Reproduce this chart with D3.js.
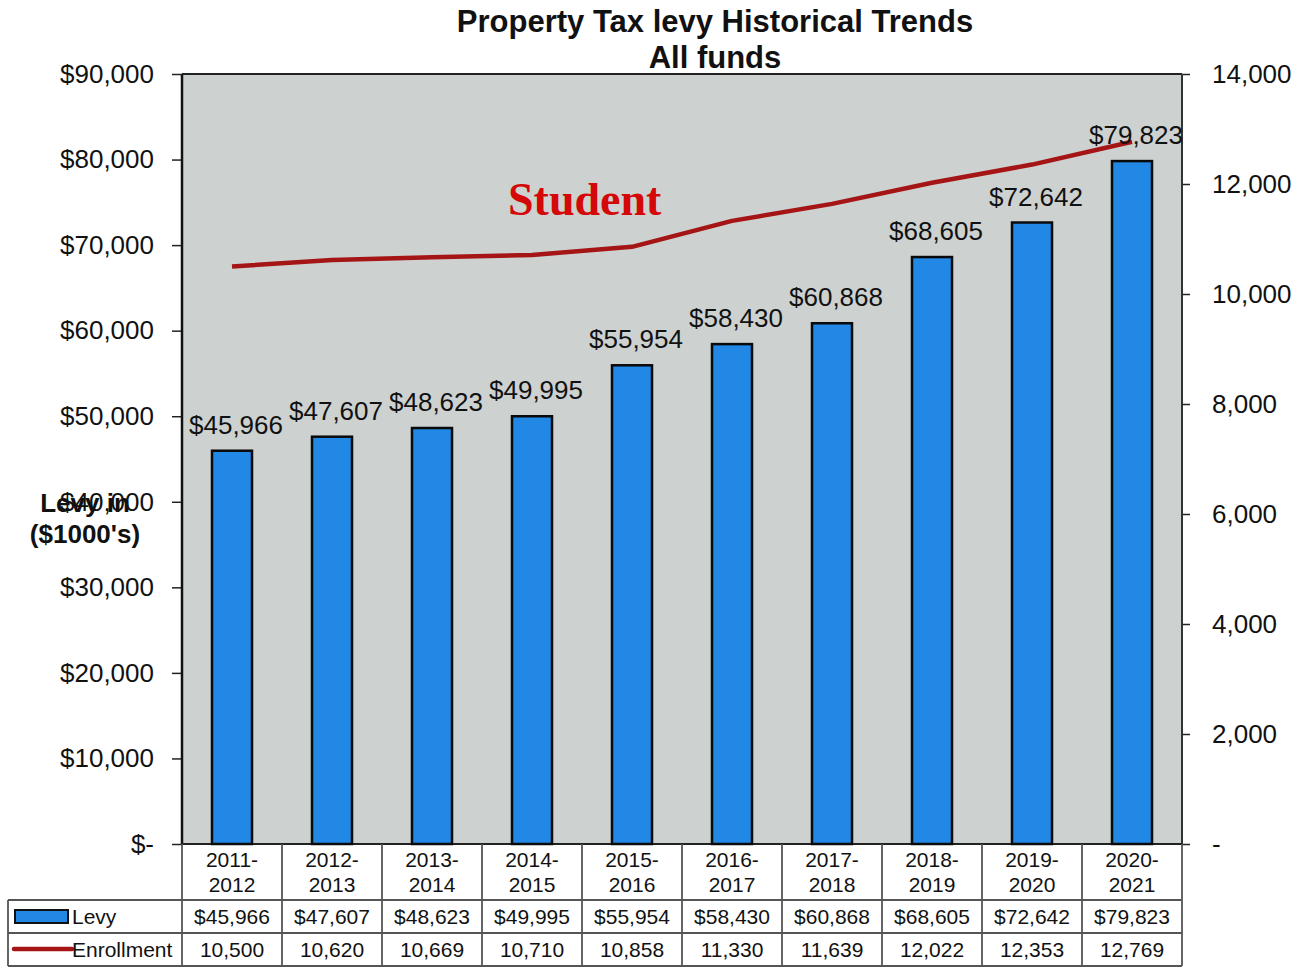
<!DOCTYPE html>
<html><head><meta charset="utf-8">
<script src="https://cdn.jsdelivr.net/npm/d3@7"></script>
<style>body{margin:0;background:#fff}svg{display:block}text{font-family:"Liberation Sans",Arial,sans-serif}</style>
</head><body><svg id="c" width="1304" height="967"></svg>
<script>
const categories = ["2011-2012","2012-2013","2013-2014","2014-2015","2015-2016","2016-2017","2017-2018","2018-2019","2019-2020","2020-2021"];
const levy = [45966,47607,48623,49995,55954,58430,60868,68605,72642,79823];
const enrollment = [10500,10620,10669,10710,10858,11330,11639,12022,12353,12769];
const leftTicks = [0,10000,20000,30000,40000,50000,60000,70000,80000,90000];
const rightTicks = [0,2000,4000,6000,8000,10000,12000,14000];

const svg = d3.select("#c");
const L=182,R=1182,T=74,B=844;
const x = d3.scaleBand().domain(categories).range([L,R]).paddingInner(0.6).paddingOuter(0.3);
const xc = d3.scaleBand().domain(categories).range([L,R]);
const yL = d3.scaleLinear().domain([0,90000]).range([B,T]);
const yR = d3.scaleLinear().domain([0,14000]).range([B,T]);
const money = d => d===0 ? "$-" : "$" + d3.format(",")(d);
const num = d => d===0 ? "-" : d3.format(",")(d);

// title
svg.append("text").attr("x",715).attr("y",32).attr("text-anchor","middle").attr("font-size",31).attr("font-weight","bold").attr("fill","#111").text("Property Tax levy Historical Trends");
svg.append("text").attr("x",715).attr("y",68).attr("text-anchor","middle").attr("font-size",31).attr("font-weight","bold").attr("fill","#111").text("All funds");

// plot bg
svg.append("rect").attr("x",L).attr("y",T).attr("width",R-L).attr("height",B-T).attr("fill","#cdd1d0");

// axes
const gl = svg.append("g").attr("transform",`translate(${L},0)`).call(d3.axisLeft(yL).tickValues(leftTicks).tickFormat(money).tickSize(10).tickPadding(18));
gl.selectAll("text").attr("font-size",26).attr("fill","#111");
gl.selectAll("line").attr("stroke","#222").attr("stroke-width",1.5);
gl.select(".domain").remove();
const gr = svg.append("g").attr("transform",`translate(${R},0)`).call(d3.axisRight(yR).tickValues(rightTicks).tickFormat(num).tickSize(8).tickPadding(22));
gr.selectAll("text").attr("font-size",26).attr("fill","#111");
gr.selectAll("line").attr("stroke","#222").attr("stroke-width",1.5);
gr.select(".domain").remove();

// plot borders
svg.append("line").attr("x1",L).attr("x2",L).attr("y1",T).attr("y2",B).attr("stroke","#111").attr("stroke-width",2.5);
svg.append("line").attr("x1",L).attr("x2",R).attr("y1",T).attr("y2",T).attr("stroke","#222").attr("stroke-width",2);
svg.append("line").attr("x1",R).attr("x2",R).attr("y1",T).attr("y2",B).attr("stroke","#333").attr("stroke-width",2);
svg.append("line").attr("x1",L).attr("x2",R).attr("y1",B).attr("y2",B).attr("stroke","#222").attr("stroke-width",2);

// bars
svg.selectAll(".bar").data(levy).join("rect").attr("class","bar")
  .attr("x",(d,i)=>x(categories[i])).attr("width",x.bandwidth())
  .attr("y",d=>yL(d)).attr("height",d=>B-yL(d))
  .attr("fill","#2188e6").attr("stroke","#0a0a0a").attr("stroke-width",2.5);

// line
const line = d3.line().x((d,i)=>xc(categories[i])+xc.bandwidth()/2).y(d=>yR(d));
svg.append("path").datum(enrollment).attr("d",line).attr("fill","none").attr("stroke","#a51515").attr("stroke-width",4.5).attr("stroke-linejoin","round");

// bar labels
svg.selectAll(".lbl").data(levy).join("text").attr("class","lbl")
  .attr("x",(d,i)=>xc(categories[i])+xc.bandwidth()/2+4).attr("y",d=>yL(d)-17)
  .attr("text-anchor","middle").attr("font-size",26).attr("fill","#111").text(d=>money(d));

// Student
svg.append("text").attr("x",508).attr("y",215).attr("font-size",46).attr("font-weight","bold").attr("fill","#d40808").style("font-family","'Liberation Serif',serif").text("Student");

// y axis title
svg.append("text").attr("x",85).attr("y",512).attr("text-anchor","middle").attr("font-size",26).attr("font-weight","bold").attr("fill","#111").text("Levy in");
svg.append("text").attr("x",85).attr("y",543).attr("text-anchor","middle").attr("font-size",26).attr("font-weight","bold").attr("fill","#111").text("($1000's)");

// table
const r0=844,r1=900,r2=933,r3=966, TL=8;
const tg = svg.append("g");
const lc="#555";
categories.forEach((c,i)=>{
  const cx = xc(c)+xc.bandwidth()/2;
  const parts = c.split("-");
  tg.append("text").attr("x",cx).attr("y",867).attr("text-anchor","middle").attr("font-size",21).attr("fill","#111").text(parts[0]+"-");
  tg.append("text").attr("x",cx).attr("y",892).attr("text-anchor","middle").attr("font-size",21).attr("fill","#111").text(parts[1]);
  tg.append("text").attr("x",cx).attr("y",924).attr("text-anchor","middle").attr("font-size",21).attr("fill","#111").text(money(levy[i]));
  tg.append("text").attr("x",cx).attr("y",957).attr("text-anchor","middle").attr("font-size",21).attr("fill","#111").text(num(enrollment[i]));
});
xc.domain().forEach((c,i)=>{
  tg.append("line").attr("x1",xc(c)).attr("x2",xc(c)).attr("y1",r0).attr("y2",r3).attr("stroke",lc).attr("stroke-width",1.8);
});
tg.append("line").attr("x1",R).attr("x2",R).attr("y1",r0).attr("y2",r3).attr("stroke",lc).attr("stroke-width",1.8);
tg.append("line").attr("x1",TL).attr("x2",TL).attr("y1",r1).attr("y2",r3).attr("stroke",lc).attr("stroke-width",1.8);
[r1,r2,r3].forEach(y=>tg.append("line").attr("x1",TL).attr("x2",R).attr("y1",y).attr("y2",y).attr("stroke",lc).attr("stroke-width",1.8));
// legend keys
tg.append("rect").attr("x",15).attr("y",910).attr("width",53).attr("height",13).attr("fill","#2188e6").attr("stroke","#111").attr("stroke-width",2);
tg.append("text").attr("x",72).attr("y",924).attr("font-size",21).attr("fill","#111").text("Levy");
tg.append("line").attr("x1",14).attr("x2",72).attr("y1",949).attr("y2",949).attr("stroke","#a51515").attr("stroke-width",4.5).attr("stroke-linecap","round");
tg.append("text").attr("x",72).attr("y",957).attr("font-size",21).attr("fill","#111").text("Enrollment");
</script></body></html>
